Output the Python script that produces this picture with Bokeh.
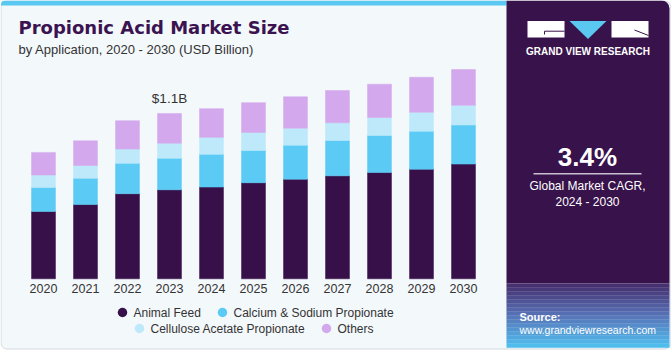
import numpy as np
from bokeh.plotting import figure
from bokeh.models import Range1d, ColumnDataSource
from bokeh.core.properties import value
from bokeh.embed import file_html
from bokeh.resources import INLINE

# ---- data (USD Billion) ----
years = [2020, 2021, 2022, 2023, 2024, 2025, 2026, 2027, 2028, 2029, 2030]
year_labels = [str(y) for y in years]
animal_feed = [0.448, 0.494, 0.566, 0.592, 0.610, 0.639, 0.663, 0.685, 0.707, 0.729, 0.763]
calcium_sodium = [0.160, 0.175, 0.202, 0.210, 0.218, 0.215, 0.226, 0.235, 0.246, 0.253, 0.260]
cellulose_acetate = [0.082, 0.085, 0.095, 0.100, 0.113, 0.120, 0.113, 0.118, 0.120, 0.126, 0.131]
others = [0.151, 0.164, 0.189, 0.198, 0.191, 0.198, 0.209, 0.215, 0.222, 0.233, 0.238]
series_names = ["Animal Feed", "Calcium & Sodium Propionate",
                "Cellulose Acetate Propionate", "Others"]
series_colors = ["#37104A", "#5BCAF5", "#BDE9FA", "#D3A8EC"]
highlight_year = 2023
highlight_label = "$1.1B"

title = "Propionic Acid Market Size"
subtitle = "by Application, 2020 - 2030 (USD Billion)"
cagr = "3.4%"
cagr_text = ["Global Market CAGR,", "2024 - 2030"]

W, H = 671, 350
FONT = value("Liberation Sans")

# data ranges mapped onto the full canvas
px_per_year = 42.0
x0_px = 43.0
base_px = 278.3
px_per_unit = 150.3
x_range = Range1d(years[0] - x0_px / px_per_year, years[0] + (W - x0_px) / px_per_year)
y_range = Range1d(-(H - base_px) / px_per_unit, base_px / px_per_unit)

p = figure(width=W, height=H, x_range=x_range, y_range=y_range,
           x_axis_location=None, y_axis_location=None,
           toolbar_location=None, output_backend="svg", min_border=0,
           background_fill_color="white", border_fill_color="white",
           outline_line_color=None)
p.grid.visible = False
p.extra_x_ranges = {"px": Range1d(0, W)}
p.extra_y_ranges = {"px": Range1d(H, 0)}
PX = dict(x_range_name="px", y_range_name="px")

# card background
p.quad(left=0.5, right=670.5, top=0.5, bottom=348.5, fill_color="#F3F8FB",
       line_color="#D3DAE0", line_width=1, border_radius=6, **PX)
# top stripe
p.quad(left=0.5, right=506, top=0, bottom=5, fill_color="#5BC8F2",
       line_color=None, border_radius=(4, 0, 0, 0), **PX)
# right panel
p.quad(left=506, right=669, top=0, bottom=283, fill_color="#38124A",
       line_color=None, border_radius=(0, 8, 0, 0), **PX)
# source gradient
grad_top = np.array([0x46, 0x30, 0x70])
grad_mid = np.array([0x58, 0x74, 0xB8])
grad_bot = np.array([0x50, 0xBC, 0xEC])
nb = 16
for i in range(nb):
    t = i / (nb - 1)
    c = grad_top + (grad_mid - grad_top) * (t / 0.5) if t < 0.5 else grad_mid + (grad_bot - grad_mid) * ((t - 0.5) / 0.5)
    col = "#%02x%02x%02x" % tuple(int(v) for v in c)
    top = 283 + i * 4
    p.quad(left=506, right=669, top=top, bottom=top + 4.2, fill_color=col,
           line_color=None, **PX)

# bars
src = ColumnDataSource(dict(year=years, af=animal_feed, cs=calcium_sodium,
                            ca=cellulose_acetate, ot=others))
p.vbar_stack(["af", "cs", "ca", "ot"], x="year", width=0.57, source=src,
             fill_color=series_colors, line_color=series_colors, line_width=0.5)

# year labels
p.text(x=years, y=[0] * len(years), text=year_labels, y_offset=9.5,
       text_align="center", text_baseline="middle", text_font=FONT,
       text_font_size="12.5px", text_color="#333333")

# highlight label
hi = years.index(highlight_year)
tot = animal_feed[hi] + calcium_sodium[hi] + cellulose_acetate[hi] + others[hi]
p.text(x=[highlight_year], y=[tot], text=[highlight_label], y_offset=-15,
       text_align="center", text_baseline="middle", text_font=FONT,
       text_font_size="13.5px", text_color="#333333")

# title
p.text(x=[18], y=[27], text=[title], text_font=value("DejaVu Sans"),
       text_font_style="bold", text_font_size="18px", text_color="#3A1350",
       text_baseline="middle", **PX)
p.text(x=[18], y=[48.5], text=[subtitle], text_font=FONT,
       text_font_size="13px", text_color="#333333",
       text_baseline="middle", **PX)

# legend
leg_cx = [122, 222, 139, 326]
leg_cy = [312, 312, 328, 328]
p.scatter(x=leg_cx, y=leg_cy, size=9.5, fill_color=series_colors,
          line_color=None, **PX)
p.text(x=[c + 11 for c in leg_cx], y=leg_cy, text=series_names,
       text_font=FONT, text_font_size="12px", text_color="#333333",
       text_baseline="middle", **PX)

# logo
p.quad(left=[527, 611], right=[564, 648], top=[20.5, 20.5], bottom=[37, 37],
       fill_color="white", line_color=None, **PX)
p.patch(x=[569, 606, 587.5], y=[20.5, 20.5, 38.5], fill_color="#5BC8F2",
        line_color=None, **PX)
p.line(x=[564, 544, 544], y=[30.7, 30.7, 34], line_color="#38124A",
       line_width=1, **PX)
p.line(x=[634, 648], y=[29.5, 35], line_color="#38124A", line_width=1, **PX)
p.text(x=[587.5], y=[51], text=["GRAND VIEW RESEARCH"], text_font=FONT,
       text_font_style="bold", text_font_size="10px", text_color="white",
       text_align="center", text_baseline="middle", **PX)

# CAGR
p.text(x=[587], y=[156.5], text=[cagr], text_font=FONT, text_font_style="bold",
       text_font_size="26px", text_color="white", text_align="center",
       text_baseline="middle", **PX)
p.line(x=[533, 641], y=[173.3, 173.3], line_color="#C9C0D2", line_width=1.5, **PX)
p.text(x=[587, 587], y=[185, 201], text=cagr_text, text_font=FONT,
       text_font_size="12px", text_color="white", text_align="center",
       text_baseline="middle", **PX)

# source
p.text(x=[519], y=[316], text=["Source:"], text_font=FONT, text_font_style="bold",
       text_font_size="11px", text_color="white", text_baseline="middle", **PX)
p.text(x=[519], y=[329.5], text=["www.grandviewresearch.com"], text_font=FONT,
       text_font_size="10.5px", text_color="white", text_baseline="middle", **PX)

open("out.html", "w").write(file_html(p, INLINE))
